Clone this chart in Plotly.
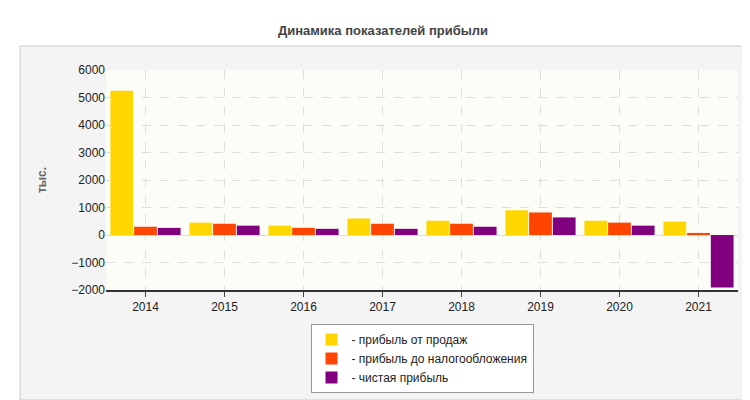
import plotly.graph_objects as go

years = ["2014", "2015", "2016", "2017", "2018", "2019", "2020", "2021"]
sales_profit = [5250, 450, 340, 600, 520, 900, 520, 490]
pretax_profit = [300, 410, 260, 410, 410, 820, 450, 75]
net_profit = [260, 340, 225, 225, 300, 640, 340, -1910]

names = ["- прибыль от продаж", "- прибыль до налогообложения", "- чистая прибыль"]
colors = ["#FFD700", "#FF4500", "#800080"]

fig = go.Figure()
for name, vals, col in zip(names, [sales_profit, pretax_profit, net_profit], colors):
    fig.add_bar(x=years, y=vals, name=name, marker_color=col, marker_line_width=0)

# outer grey panel, then the light plot area on top of it
fig.add_shape(type="rect", xref="paper", yref="paper", x0=-0.136, x1=1.016, y0=-0.5, y1=1.109,
              fillcolor="#f4f4f4", line=dict(color="#cccccc", width=1), layer="below")
fig.add_shape(type="rect", xref="paper", yref="paper", x0=0, x1=1, y0=0, y1=1,
              fillcolor="#fdfdf8", line=dict(width=0), layer="below")

fig.update_layout(
    width=750, height=400,
    margin=dict(l=98, r=20, t=62, b=118),
    paper_bgcolor="white", plot_bgcolor="rgba(0,0,0,0)",
    font=dict(family="Liberation Sans, Arial", size=12, color="#222"),
    title=dict(text="<b>Динамика показателей прибыли</b>", x=0.5, y=0.955,
               font=dict(size=13, color="#444")),
    barmode="group", bargap=0.1, bargroupgap=0.04,
    legend=dict(orientation="v", x=0.5, xanchor="center", y=-0.155, yanchor="top",
                bgcolor="white", bordercolor="#999", borderwidth=1,
                font=dict(size=12), tracegroupgap=0, itemwidth=30),
    xaxis=dict(showgrid=True, gridcolor="#dddddd", griddash="dash", ticks="outside",
               ticklen=5, showline=True, linecolor="#333", linewidth=1.5),
    yaxis=dict(range=[-2000, 6000], dtick=1000, gridcolor="#dddddd", griddash="dash",
               zeroline=True, zerolinecolor="#dddddd", zerolinewidth=1,
               title=dict(text="<b>тыс.</b>", font=dict(size=12, color="#666"), standoff=22)),
)

fig.write_html("out.html")
